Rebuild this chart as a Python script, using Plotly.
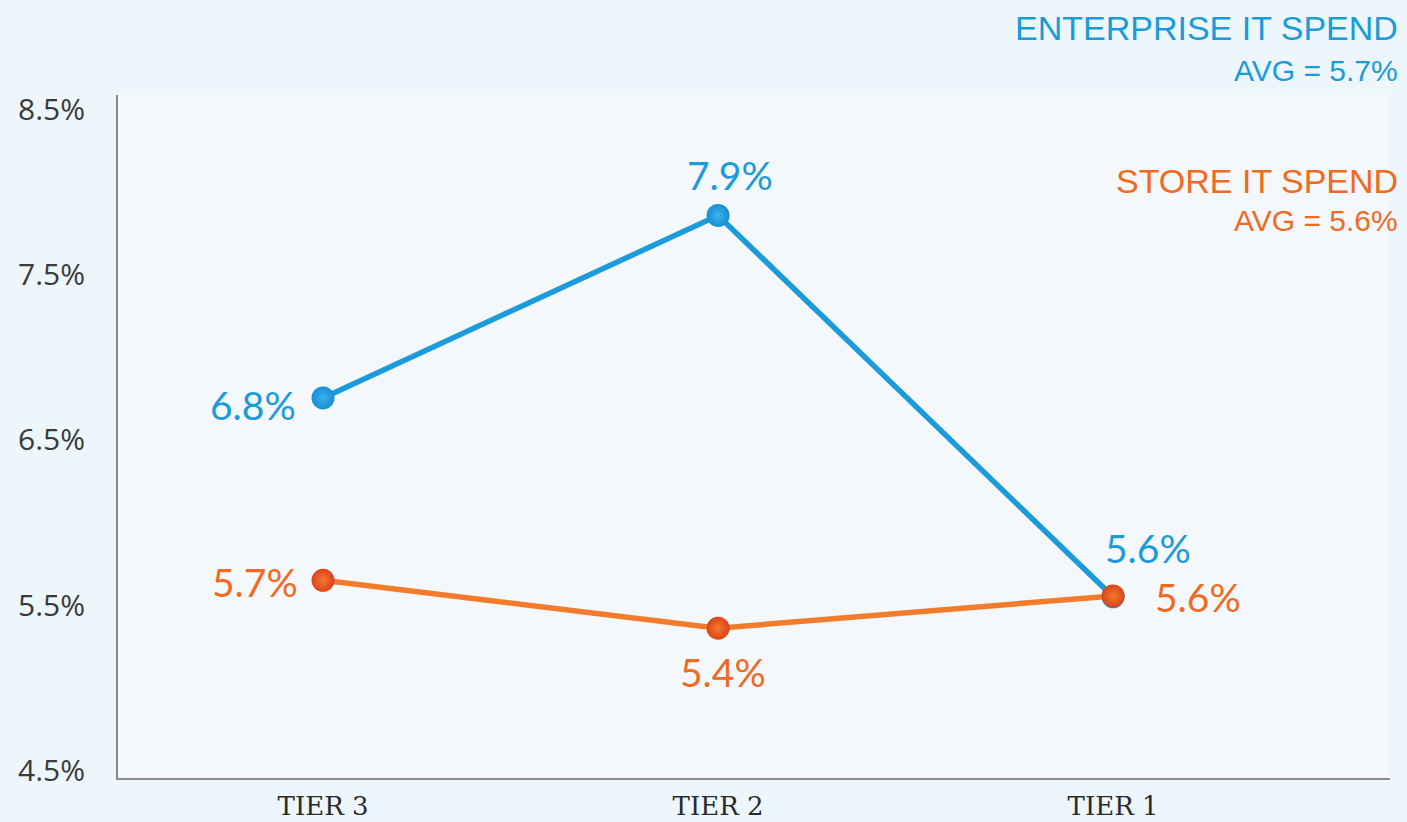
import plotly.graph_objects as go

# ---- data ----
tiers = ["TIER 3", "TIER 2", "TIER 1"]
enterprise_vals = [6.755, 7.86, 5.55]
store_vals = [5.65, 5.36, 5.555]
enterprise_labels = ["6.8%", "7.9%", "5.6%"]
store_labels = ["5.7%", "5.4%", "5.6%"]
y_ticks = [4.5, 5.5, 6.5, 7.5, 8.5]
y_ticklabels = ["4.5%", "5.5%", "6.5%", "7.5%", "8.5%"]
legend_titles = ["ENTERPRISE IT SPEND", "STORE IT SPEND"]
legend_avgs = ["AVG = 5.7%", "AVG = 5.6%"]

BLUE = "#1b9bd9"
ORANGE_TXT = "#f06a22"
ORANGE_LINE = "#f27c2c"

x_idx = list(range(len(tiers)))

fig = go.Figure()
fig.add_trace(go.Scatter(
    x=x_idx, y=enterprise_vals, mode="lines+markers",
    line=dict(color=BLUE, width=5.5),
    marker=dict(size=23, color="#178fd6",
                gradient=dict(type="radial", color="#3cb0ec")),
    hoverinfo="skip", showlegend=False))
fig.add_trace(go.Scatter(
    x=x_idx, y=store_vals, mode="lines+markers",
    line=dict(color=ORANGE_LINE, width=5.5),
    marker=dict(size=23, color="#db4318",
                gradient=dict(type="radial", color="#f27a30")),
    hoverinfo="skip", showlegend=False))

# data labels
ent_pos = [("right", -25, -7), ("center", 12, 40), ("center", 35, 49)]
sto_pos = [("right", -23, -2), ("center", 5, -44), ("left", 40, -1)]
for i, (lab, (xa, dx, dy)) in enumerate(zip(enterprise_labels, ent_pos)):
    fig.add_annotation(x=x_idx[i], y=enterprise_vals[i], text=lab, showarrow=False,
                       xanchor=xa, yanchor="middle", xshift=dx, yshift=dy,
                       font=dict(family="Lato", size=39, color=BLUE))
for i, (lab, (xa, dx, dy)) in enumerate(zip(store_labels, sto_pos)):
    fig.add_annotation(x=x_idx[i], y=store_vals[i], text=lab, showarrow=False,
                       xanchor=xa, yanchor="middle", xshift=dx, yshift=dy,
                       font=dict(family="Lato", size=39, color=ORANGE_TXT))

# legend-like texts (top right)
H = 683.0
def py(Y):
    return (778 - Y) / H
xr = 1 + 10 / 1272.0
legend_specs = [
    (legend_titles[0], 28, 34, BLUE),
    (legend_avgs[0], 70, 30, BLUE),
    (legend_titles[1], 181, 34, ORANGE_TXT),
    (legend_avgs[1], 221, 30, ORANGE_TXT),
]
for txt, Y, sz, col in legend_specs:
    fig.add_annotation(xref="paper", yref="paper", x=xr, y=py(Y), text=txt,
                       showarrow=False, xanchor="right", yanchor="middle",
                       font=dict(family="Liberation Sans", size=sz, color=col))

fig.update_xaxes(
    range=[-0.519, 2.701], tickvals=x_idx, ticktext=tiers, automargin=False,
    showgrid=False, zeroline=False, showline=True, linecolor="#8a8a8a", linewidth=2,
    ticks="outside", ticklen=4, tickcolor="rgba(0,0,0,0)",
    tickfont=dict(family="DejaVu Serif", size=26, color="#2b2b2b"))
fig.update_yaxes(
    range=[4.452, 8.59], tickvals=y_ticks, ticktext=y_ticklabels, automargin=False,
    showgrid=False, zeroline=False, showline=True, linecolor="#8a8a8a", linewidth=2,
    ticks="outside", ticklen=25, tickcolor="rgba(0,0,0,0)",
    tickfont=dict(family="Open Sans", size=30, color="#3a3a3a"))

fig.update_layout(
    width=1407, height=822,
    margin=dict(l=118, r=17, t=95, b=44),
    paper_bgcolor="#edf6fa", plot_bgcolor="#f4f8fa",
)

fig.write_html(
    "out.html",
    config={"displayModeBar": False},
    post_script="document.body.style.margin='0';document.body.style.background='#edf6fa';",
)
